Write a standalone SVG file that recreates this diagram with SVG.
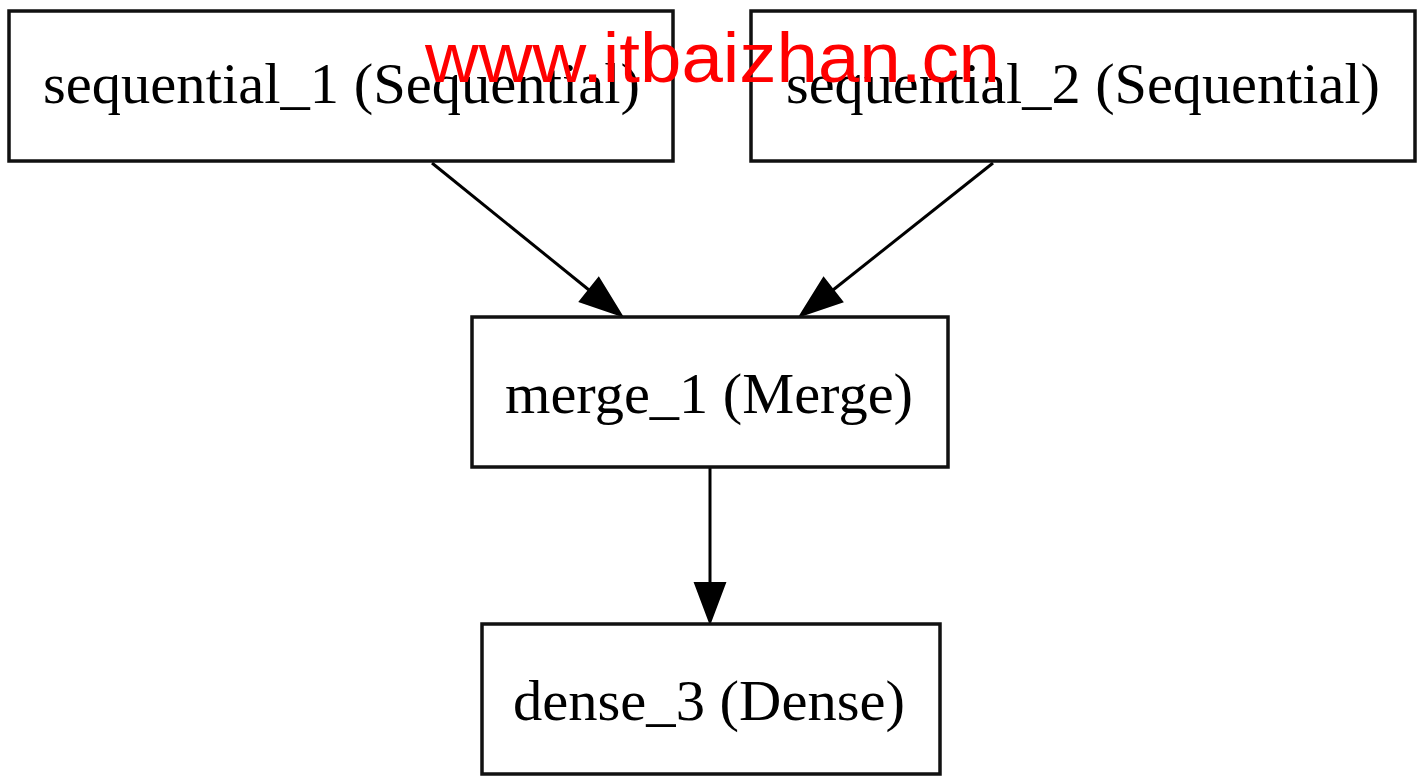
<svg xmlns="http://www.w3.org/2000/svg" width="1426" height="778" viewBox="0 0 1426 778">
<style>
.box{fill:#fff;stroke:#111;stroke-width:3.5}
.lbl{font-family:"Liberation Serif","Times New Roman",serif;font-size:57px;fill:#000;text-anchor:middle}
.edge{stroke:#000;stroke-width:3;fill:none}
.head{fill:#000;stroke:#000;stroke-width:2}
.wm{font-family:"Liberation Sans",Arial,sans-serif;font-size:70px;fill:#f00}
</style>
<rect width="1426" height="778" fill="#fff"/>
<g id="connectors">
<line class="edge" x1="432" y1="163" x2="589" y2="290"/>
<polygon class="head" points="622,316 598.7,278 579.9,301.4"/>
<line class="edge" x1="993" y1="163" x2="833" y2="290"/>
<polygon class="head" points="800,316 842.2,301.7 823.6,278.1"/>
<line class="edge" x1="710" y1="468" x2="710" y2="585"/>
<polygon class="head" points="710,623 695,583 725,583"/>
</g>
<g id="sequential_1">
<rect class="box" x="9" y="11" width="664" height="150"/>
<text class="lbl" x="341.5" y="103" textLength="597" lengthAdjust="spacingAndGlyphs">sequential_1 (Sequential)</text>
</g>
<g id="sequential_2">
<rect class="box" x="751" y="11" width="664" height="150"/>
<text class="lbl" x="1083" y="103" textLength="594" lengthAdjust="spacingAndGlyphs">sequential_2 (Sequential)</text>
</g>
<g id="merge_1">
<rect class="box" x="472" y="317" width="476" height="150"/>
<text class="lbl" x="709" y="413" textLength="408" lengthAdjust="spacingAndGlyphs">merge_1 (Merge)</text>
</g>
<g id="dense_3">
<rect class="box" x="482" y="624" width="458" height="150"/>
<text class="lbl" x="709" y="720" textLength="392" lengthAdjust="spacingAndGlyphs">dense_3 (Dense)</text>
</g>
<text class="wm" x="425" y="82" textLength="575" lengthAdjust="spacingAndGlyphs">www.itbaizhan.cn</text>
</svg>
